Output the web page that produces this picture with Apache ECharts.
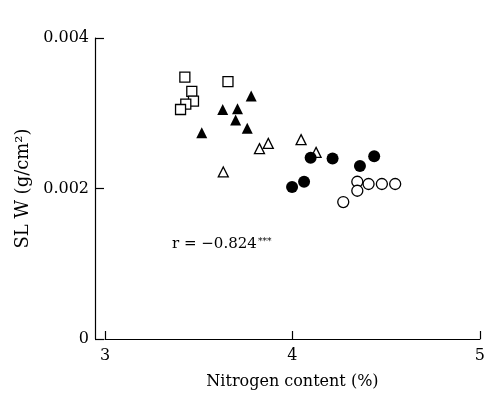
<!DOCTYPE html>
<html>
<head>
<meta charset="utf-8">
<script src="https://cdn.jsdelivr.net/npm/echarts@6/dist/echarts.min.js"></script>
<style>
  html, body { margin: 0; padding: 0; background: #fff; }
  #chart { width: 488px; height: 395px; }
</style>
</head>
<body>
<div id="chart"></div>
<script>
// 数据 (氮含量 %, SLW g/cm2)
var openSquares = [[3.426, 0.00348], [3.656, 0.00342], [3.463, 0.00329], [3.472, 0.00316], [3.431, 0.00312], [3.403, 0.00305]];
var filledTriangles = [[3.780, 0.00323], [3.628, 0.00305], [3.707, 0.00306], [3.697, 0.00291], [3.759, 0.00280], [3.516, 0.00274]];
var openTriangles = [[3.871, 0.00260], [3.824, 0.00253], [3.631, 0.00222], [4.046, 0.00265], [4.126, 0.00248]];
var filledCircles = [[4.097, 0.00241], [4.214, 0.00240], [4.436, 0.00243], [4.360, 0.00230], [4.062, 0.00209], [3.998, 0.00202]];
var openCircles = [[4.346, 0.00209], [4.346, 0.00197], [4.406, 0.00206], [4.477, 0.00206], [4.548, 0.00206], [4.271, 0.00182]];
var xTicks = [3, 4, 5];
var yTicks = [0, 0.002, 0.004];
var rLabel = 'r = −0.824';

var font = 'DejaVu Serif';
var chart = echarts.init(document.getElementById('chart'));

function pts(name, data, symbol, size, filled) {
  return {
    name: name,
    type: 'scatter',
    data: data,
    symbol: symbol,
    symbolSize: size,
    itemStyle: {
      color: filled ? '#000' : '#fff',
      borderColor: '#000',
      borderWidth: filled ? 0 : 1.3,
      opacity: 1
    },
    emphasis: { disabled: true }
  };
}

var option = {
  animation: false,
  backgroundColor: '#fff',
  textStyle: { fontFamily: font, color: '#000' },
  grid: { left: 105, right: 7, top: 38, bottom: 56 },
  xAxis: {
    type: 'value',
    min: xTicks[0],
    max: xTicks[xTicks.length - 1],
    interval: 1,
    name: 'Nitrogen content (%)',
    nameLocation: 'middle',
    nameGap: 35,
    nameTextStyle: { fontFamily: font, fontSize: 16, color: '#000' },
    axisLine: { show: true, lineStyle: { color: '#000', width: 1.2 } },
    axisTick: { show: true, inside: true, length: 8, lineStyle: { color: '#000', width: 1.2 } },
    axisLabel: { fontFamily: font, fontSize: 16, color: '#000', margin: 9 },
    splitLine: { show: false }
  },
  yAxis: {
    type: 'value',
    min: yTicks[0],
    max: yTicks[yTicks.length - 1],
    interval: 0.002,
    offset: 10,
    name: 'SL W (g/cm²)',
    nameLocation: 'middle',
    nameRotate: 90,
    nameGap: 50,
    nameTextStyle: { fontFamily: font, fontSize: 18, color: '#000' },
    axisLine: { show: true, lineStyle: { color: '#000', width: 1.2 } },
    axisTick: { show: true, inside: true, length: 9, lineStyle: { color: '#000', width: 1.2 } },
    axisLabel: {
      fontFamily: font, fontSize: 16, color: '#000', margin: 6,
      formatter: function (v) { return v === 0 ? '0' : v.toFixed(3); }
    },
    splitLine: { show: false }
  },
  graphic: [
    { type: 'text', left: 172, top: 237, style: { text: rLabel, font: '15px "DejaVu Serif"', fill: '#000' } },
    { type: 'text', left: 258, top: 237, style: { text: '***', font: '9px "DejaVu Serif"', fill: '#000' } }
  ],
  series: [
    pts('open squares', openSquares, 'rect', 10, false),
    pts('filled triangles', filledTriangles, 'triangle', 11, true),
    pts('open triangles', openTriangles, 'triangle', 10, false),
    pts('filled circles', filledCircles, 'circle', 12, true),
    pts('open circles', openCircles, 'circle', 11, false)
  ]
};

chart.setOption(option);
</script>
</body>
</html>
